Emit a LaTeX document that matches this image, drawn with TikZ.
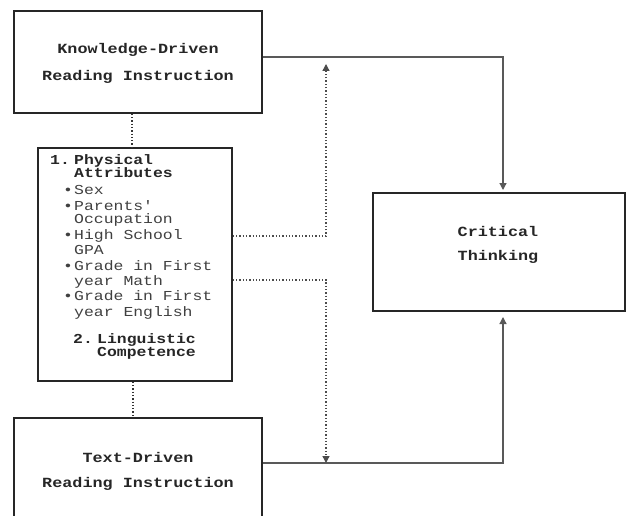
\documentclass[tikz,border=0pt]{standalone}
\usepackage{fontspec}
\newfontfamily\cour[FakeStretch=1.2]{Liberation Mono}
\usetikzlibrary{arrows.meta}
\begin{document}
\begin{tikzpicture}[x=1pt,y=-1pt,
  box/.style={draw=black!85,line width=1.5pt,inner sep=0pt},
  ttl/.style={inner sep=0pt,font=\cour\fontsize{14}{15}\selectfont\bfseries,text=black!85},
  itm/.style={inner sep=0pt,anchor=west,text height=8pt,text depth=2pt,font=\cour\fontsize{13.7}{15}\selectfont,text=black!75},
  itb/.style={itm,font=\cour\fontsize{13.7}{15}\selectfont\bfseries,text=black!85},
  conn/.style={draw=black!65,line width=1.3pt,-{Triangle[length=7pt,width=7pt]}},
  dotc/.style={draw=black!70,line width=1.3pt,dotted,-{Triangle[length=7pt,width=7pt]}},
  dotl/.style={draw=black!80,line width=1.3pt,dotted}]
\useasboundingbox (0,0) rectangle (626,516);
% boxes
\node[box,minimum width=248pt,minimum height=102pt] (kd) at (138,62) {};
\node[box,minimum width=194pt,minimum height=233pt] (mid) at (135,264.5) {};
\node[box,minimum width=248pt,minimum height=112pt] (td) at (138,474) {};
\node[box,minimum width=252pt,minimum height=118pt] (crit) at (499,252) {};
% titles
\node[ttl] (kd1) at (138,50) {Knowledge-Driven};
\node[ttl] (kd2) at (138,77) {Reading Instruction};
\node[ttl] (td1) at (138,457) {Text-Driven};
\node[ttl] (td2) at (138,484) {Reading Instruction};
\node[ttl] (ct1) at (498,231) {Critical};
\node[ttl] (ct2) at (498,257) {Thinking};
% middle box text
\node[itb] (n1) at (50,161) {1.};
\node[itb] (t1) at (74,161) {Physical};
\node[itb] (t2) at (74,174) {Attributes};
\node[itm] (b1) at (63,191) {\textbullet};
\node[itm] (s1) at (74,191) {Sex};
\node[itm] (b2) at (63,207) {\textbullet};
\node[itm] (s2) at (74,207) {Parents'};
\node[itm] (s3) at (74,220) {Occupation};
\node[itm] (b3) at (63,236) {\textbullet};
\node[itm] (s4) at (74,236) {High School};
\node[itm] (s5) at (74,251) {GPA};
\node[itm] (b4) at (63,267) {\textbullet};
\node[itm] (s6) at (74,267) {Grade in First};
\node[itm] (s7) at (74,282) {year Math};
\node[itm] (b5) at (63,297) {\textbullet};
\node[itm] (s8) at (74,297) {Grade in First};
\node[itm] (s9) at (74,313) {year English};
\node[itb] (n2) at (73,340) {2.};
\node[itb] (l1) at (97,340) {Linguistic};
\node[itb] (l2) at (97,353) {Competence};
% connectors
\coordinate (vt) at (503,57);
\coordinate (vb) at (503,463);
\coordinate (ctop) at (503,190);
\coordinate (cbot) at (503,317);
\draw[conn] (kd.east |- vt) -- (vt) -- (ctop);
\draw[conn] (td.east |- vb) -- (vb) -- (cbot);
\draw[dotl] ([xshift=-6pt]kd.south) -- ([xshift=-3pt]mid.north);
\draw[dotl] ([xshift=-2pt]mid.south) -- ([xshift=-5pt]td.north);
\coordinate (ua) at (326,236);
\coordinate (la) at (326,280);
\coordinate (up) at (326,64);
\coordinate (dn) at (326,463);
\draw[dotc] (mid.east |- ua) -- (ua) -- (up);
\draw[dotc] (mid.east |- la) -- (la) -- (dn);
\end{tikzpicture}
\end{document}
